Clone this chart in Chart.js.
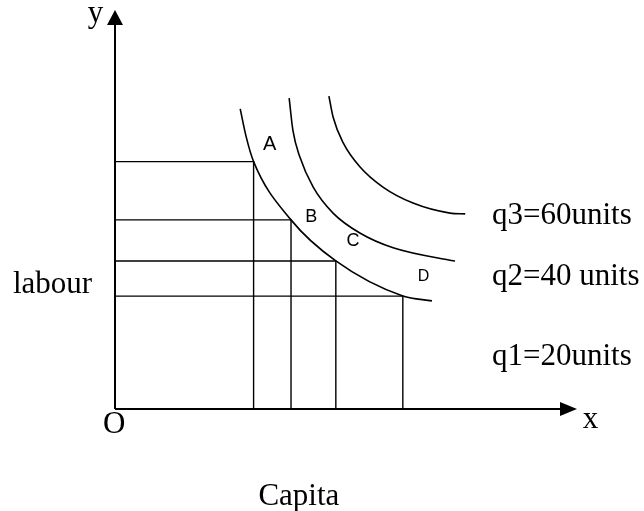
<!DOCTYPE html>
<html>
<head>
<meta charset="utf-8">
<title>Isoquants</title>
<script src="https://cdn.jsdelivr.net/npm/chart.js@4/dist/chart.umd.min.js"></script>
<style>
  html, body { margin: 0; padding: 0; background: #fff; }
  #wrap { width: 644px; height: 511px; }
</style>
</head>
<body>
<div id="wrap"><canvas id="isoChart" width="644" height="511"></canvas></div>
<script>
// capital on x, labour on y (arbitrary units, 0..100 on both axes)
const q1Capital = [27.1, 28.4, 30.0, 38.1, 47.8, 62.3, 68.6];
const q1Labour  = [75.2, 68.2, 62.0, 47.4, 37.1, 28.3, 27.1];

const q2Capital = [37.7, 38.5, 40.0, 42.9, 47.2, 53.0, 60.2, 72.5, 73.6];
const q2Labour  = [77.9, 69.9, 63.2, 55.6, 49.1, 44.1, 40.4, 37.3, 37.1];

const q3Capital = [46.3, 47.2, 49.4, 53.0, 58.0, 64.5, 72.5, 75.8];
const q3Labour  = [78.4, 73.2, 66.7, 60.7, 55.6, 51.6, 49.1, 48.9];

// combinations A..D on q1
const pointNames   = ['A', 'B', 'C', 'D'];
const pointCapital = [30.0, 38.1, 47.8, 62.3];
const pointLabour  = [62.0, 47.4, 37.1, 28.3];
const pointLabelX  = [33.5, 42.5, 51.5, 66.8];
const pointLabelY  = [66.4, 48.2, 42.0, 33.3];
const pointFont    = [20, 18, 18, 16];

const isoNames  = ['q3=60units', 'q2=40 units', 'q1=20units'];
const isoLabelX = 81.6;
const isoLabelY = [46.4, 31.1, 11.0];

const toXY = (xs, ys) => xs.map((x, i) => ({ x: x, y: ys[i] }));

const curveStyle = {
    borderColor: '#000',
    borderWidth: 1.6,
    pointRadius: 0,
    fill: false,
    cubicInterpolationMode: 'monotone'
};

const datasets = [
    Object.assign({ label: 'q1', data: toXY(q1Capital, q1Labour) }, curveStyle),
    Object.assign({ label: 'q2', data: toXY(q2Capital, q2Labour) }, curveStyle),
    Object.assign({ label: 'q3', data: toXY(q3Capital, q3Labour) }, curveStyle)
];

// the dropped lines from each combination to both axes
pointNames.forEach((name, i) => {
    datasets.push({
        label: 'box ' + name,
        data: [
            { x: 0, y: pointLabour[i] },
            { x: pointCapital[i], y: pointLabour[i] },
            { x: pointCapital[i], y: 0 }
        ],
        borderColor: '#000',
        borderWidth: 1.4,
        pointRadius: 0,
        tension: 0,
        fill: false
    });
});

const diagramText = {
    id: 'diagramText',
    afterDatasetsDraw(chart) {
        const ctx = chart.ctx;
        const xs = chart.scales.x;
        const ys = chart.scales.y;
        const area = chart.chartArea;
        const ox = xs.getPixelForValue(0);
        const oy = ys.getPixelForValue(0);

        ctx.save();
        ctx.strokeStyle = '#000';
        ctx.fillStyle = '#000';
        ctx.lineWidth = 2;

        // axes
        ctx.beginPath();
        ctx.moveTo(ox, oy);
        ctx.lineTo(ox, area.top + 12);
        ctx.moveTo(ox, oy);
        ctx.lineTo(area.right - 12, oy);
        ctx.stroke();

        // arrow heads
        ctx.beginPath();
        ctx.moveTo(ox, area.top);
        ctx.lineTo(ox - 8, area.top + 15);
        ctx.lineTo(ox + 8, area.top + 15);
        ctx.closePath();
        ctx.fill();
        ctx.beginPath();
        ctx.moveTo(area.right, oy);
        ctx.lineTo(area.right - 17, oy - 7);
        ctx.lineTo(area.right - 17, oy + 7);
        ctx.closePath();
        ctx.fill();

        // serif labels
        ctx.font = '31px "Liberation Serif", "Times New Roman", serif';
        ctx.textBaseline = 'alphabetic';
        ctx.textAlign = 'center';
        ctx.fillText('y', xs.getPixelForValue(-4.2), ys.getPixelForValue(97.0));
        ctx.fillText('x', xs.getPixelForValue(102.9), ys.getPixelForValue(-4.8));
        ctx.fillText('O', xs.getPixelForValue(-0.2), ys.getPixelForValue(-6.0));
        ctx.fillText('Capita', xs.getPixelForValue(39.8), ys.getPixelForValue(-24.1));
        ctx.textAlign = 'left';
        ctx.fillText('labour', xs.getPixelForValue(-22.1), ys.getPixelForValue(29.1));
        isoNames.forEach((t, i) => {
            ctx.fillText(t, xs.getPixelForValue(isoLabelX), ys.getPixelForValue(isoLabelY[i]));
        });

        // combination letters
        ctx.textAlign = 'center';
        ctx.textBaseline = 'middle';
        pointNames.forEach((t, i) => {
            ctx.font = pointFont[i] + 'px "Liberation Sans", Arial, sans-serif';
            ctx.fillText(t, xs.getPixelForValue(pointLabelX[i]), ys.getPixelForValue(pointLabelY[i]));
        });
        ctx.restore();
    }
};

new Chart(document.getElementById('isoChart'), {
    type: 'line',
    data: { datasets: datasets },
    options: {
        responsive: false,
        animation: false,
        devicePixelRatio: 1,
        layout: { padding: { left: 115, right: 67, top: 10, bottom: 102 } },
        scales: {
            x: { type: 'linear', min: 0, max: 100, display: false },
            y: { type: 'linear', min: 0, max: 100, display: false }
        },
        plugins: {
            legend: { display: false },
            tooltip: { enabled: false }
        }
    },
    plugins: [diagramText]
});
</script>
</body>
</html>
